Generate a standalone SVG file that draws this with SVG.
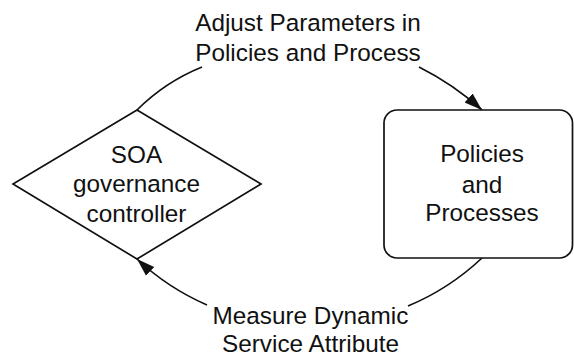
<svg xmlns="http://www.w3.org/2000/svg" width="574" height="357" viewBox="0 0 574 357">
  <style>
    .shape { fill: #ffffff; stroke: #111111; stroke-width: 1.7; }
    .conn { fill: none; stroke: #111111; stroke-width: 1.7; }
    text { font-family: "Liberation Sans", Arial, sans-serif; font-size: 24.3px; fill: #111111; text-anchor: middle; }
  </style>
  <defs>
    <marker id="arrow" markerUnits="userSpaceOnUse" markerWidth="19" markerHeight="14" viewBox="0 0 19 14" refX="18" refY="7" orient="auto">
      <path d="M0,1 L18,7 L0,13 Z" fill="#111111"/>
    </marker>
  </defs>
  <rect width="574" height="357" fill="#ffffff"/>
  <g id="connectors">
    <path class="conn" d="M202,67 Q165,82 137,110"/>
    <path class="conn" d="M419,67 Q453,84 482,110" marker-end="url(#arrow)"/>
    <path class="conn" d="M482,258 Q449,289 408,306"/>
    <path class="conn" d="M207,305 Q168,288 137,259" marker-end="url(#arrow)"/>
  </g>
  <g id="controller">
    <polygon class="shape" points="137,110 261,184 137,259 13,184"/>
    <text x="136.5" y="162.5">SOA</text>
    <text x="136.5" y="192">governance</text>
    <text x="136.5" y="221.5">controller</text>
  </g>
  <g id="policies">
    <rect class="shape" x="384" y="110" width="188.5" height="148" rx="13" ry="13"/>
    <text x="482" y="162">Policies</text>
    <text x="482" y="192.5">and</text>
    <text x="482" y="221">Processes</text>
  </g>
  <g id="label-adjust">
    <text x="308" y="30.5">Adjust Parameters in</text>
    <text x="308" y="61">Policies and Process</text>
  </g>
  <g id="label-measure">
    <text x="310.5" y="323.5">Measure Dynamic</text>
    <text x="310.5" y="351.5">Service Attribute</text>
  </g>
</svg>
